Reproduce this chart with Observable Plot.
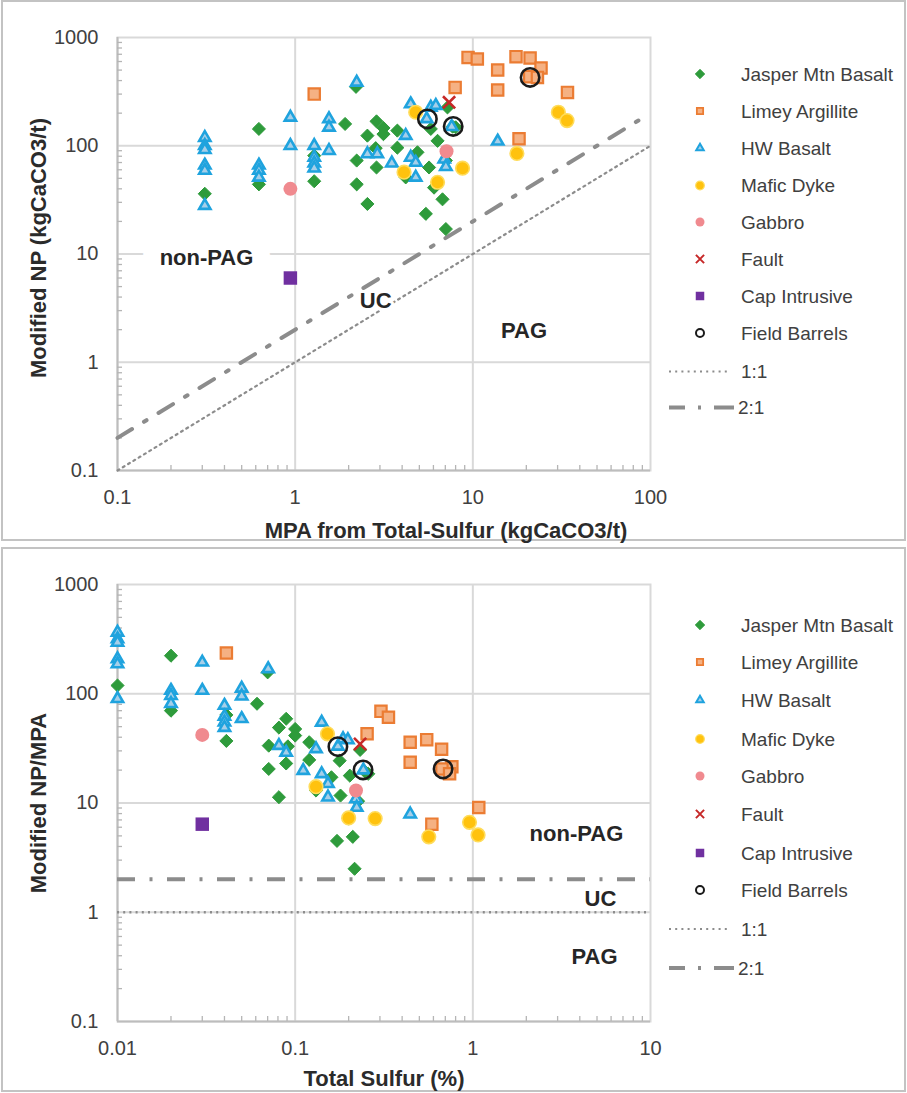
<!DOCTYPE html>
<html>
<head>
<meta charset="utf-8">
<script src="https://cdn.jsdelivr.net/npm/d3@7"></script>
<script src="https://cdn.jsdelivr.net/npm/@observablehq/plot@0.6"></script>
<style>
  body { margin: 0; background: #fff; font-family: "Liberation Sans", Arial, sans-serif; }
  #page { position: relative; width: 907px; height: 1093px; overflow: hidden; }
  .panel { position: absolute; border: 2px solid #c3c3c3; box-sizing: border-box; }
  .chart { position: absolute; left: 0; }
  .legend { position: absolute; left: 0; overflow: visible; }
</style>
</head>
<body>
<div id="page"></div>
<script>
// ---------------- Series names ----------------
const seriesNames = ["Jasper Mtn Basalt", "Limey Argillite", "HW Basalt", "Mafic Dyke", "Gabbro", "Fault", "Cap Intrusive", "Field Barrels"];
const lineNames = ["1:1", "2:1"];

// ---------------- Top panel: MPA from Total-Sulfur vs Modified NP (kgCaCO3/t) ----------------
const jasperMPA = [0.31, 0.625, 0.625, 1.28, 1.28, 1.91, 2.2, 2.22, 2.22, 2.55, 2.55, 2.87, 2.87, 2.84, 3.14, 3.14, 3.76, 3.76, 4.19, 4.88, 5.67, 5.8, 6.05, 6.33, 6.75, 5.44, 7.05, 7.05, 7.2, 7.7, 8.0];
const jasperNP  = [36, 143, 44, 81, 47, 159, 350, 73, 44, 124, 29, 168, 63, 95, 146, 128, 138, 96, 51, 87, 63, 143, 41, 111, 32, 23.5, 17, 73, 226, 150, 148];
const limeyMPA = [1.28, 7.95, 9.4, 10.6, 13.8, 13.8, 17.5, 21, 24.2, 20.9, 23.1, 34.1, 18.2];
const limeyNP  = [300, 346, 655, 633, 501, 327, 665, 647, 523, 435, 428, 311, 116];
const hwMPA = [0.31, 0.31, 0.31, 0.31, 0.31, 0.31, 0.625, 0.625, 0.625, 0.94, 0.94, 1.28, 1.28, 1.28, 1.28, 1.55, 1.55, 1.55, 2.22, 2.55, 2.9, 3.5, 4.19, 4.47, 4.47, 4.77, 4.77, 5.5, 5.8, 6.19, 6.9, 7.05, 7.6, 13.8];
const hwNP  = [119, 100, 92, 66, 59, 28, 66, 59, 51, 183, 100, 100, 78, 69, 62, 177, 148, 90, 385, 84, 84, 69, 124, 243, 78, 70, 51, 177, 226, 235, 75, 64, 150, 110];
const maficMPA = [4.77, 4.1, 6.33, 8.75, 17.7, 30.3, 33.9];
const maficNP  = [204, 57, 46, 62, 85, 204, 171];
const gabbroMPA = [0.94, 7.11];
const gabbroNP  = [40, 89];
const faultMPA = [7.35];
const faultNP  = [252];
const capMPA = [0.94];
const capNP  = [6];
const fieldMPA = [5.55, 7.75, 21];
const fieldNP  = [177, 151, 428];
// reference lines (top)
const line11MPA = [0.1, 100];
const line11NP  = [0.1, 100];
const line21MPA = [0.1, 90];
const line21NP  = [0.2, 180];

// ---------------- Bottom panel: Total Sulfur (%) vs Modified NP/MPA ----------------
const jasperS = [0.01, 0.02, 0.02, 0.041, 0.041, 0.061, 0.07, 0.071, 0.071, 0.081, 0.081, 0.089, 0.089, 0.091, 0.1, 0.1, 0.12, 0.12, 0.131, 0.16, 0.18, 0.178, 0.2, 0.203, 0.211, 0.172, 0.216, 0.226, 0.232, 0.246, 0.258];
const jasperRatio = [119, 223, 70, 64, 37, 81, 157, 33.5, 20.5, 49, 11.3, 59, 23, 33, 47.6, 41.4, 36, 24.8, 13, 17.2, 11.7, 24.4, 7.2, 17.8, 4.9, 4.5, 2.5, 10.4, 30.6, 19.5, 18.5];
const limeyS = [0.041, 0.254, 0.304, 0.335, 0.444, 0.444, 0.55, 0.667, 0.762, 0.67, 0.74, 1.08, 0.588];
const limeyRatio = [236, 43, 69, 61, 36, 23.6, 38, 31, 21.5, 20.5, 18.5, 9.1, 6.4];
const hwS = [0.01, 0.01, 0.01, 0.01, 0.01, 0.01, 0.02, 0.02, 0.02, 0.03, 0.03, 0.04, 0.04, 0.04, 0.04, 0.05, 0.05, 0.05, 0.0705, 0.081, 0.089, 0.111, 0.131, 0.141, 0.141, 0.153, 0.153, 0.174, 0.186, 0.198, 0.22, 0.222, 0.242, 0.444];
const hwRatio = [365, 317, 295, 208, 187, 90, 107, 96, 81, 194, 107, 78, 62, 55, 49, 112, 95, 59, 169, 33.5, 29, 19.8, 31.3, 54.7, 18.5, 15, 11.3, 33, 38.6, 37.8, 10.9, 9.1, 20, 7.9];
const maficS = [0.152, 0.131, 0.2, 0.282, 0.565, 0.958, 1.07];
const maficRatio = [43, 14.1, 7.3, 7.2, 4.9, 6.66, 5.1];
const gabbroS = [0.03, 0.22];
const gabbroRatio = [42, 13];
const faultS = [0.232];
const faultRatio = [34.7];
const capS = [0.03];
const capRatio = [6.4];
const fieldS = [0.174, 0.241, 0.68];
const fieldRatio = [32.8, 20.1, 20.5];
// reference lines (bottom)
const line11Ratio = [1];
const line21Ratio = [2];

// ---------------- Axis ticks ----------------
const topXTicks = [0.1, 1, 10, 100];
const topXLabels = ["0.1", "1", "10", "100"];
const topYTicks = [0.1, 1, 10, 100, 1000];
const topYLabels = ["0.1", "1", "10", "100", "1000"];
const botXTicks = [0.01, 0.1, 1, 10];
const botXLabels = ["0.01", "0.1", "1", "10"];
const botYTicks = [0.1, 1, 10, 100, 1000];
const botYLabels = ["0.1", "1", "10", "100", "1000"];

// ---------------- Annotations ----------------
const topAnnText = ["non-PAG", "UC", "PAG"];
const topAnnX = [0.317, 2.84, 19.4];
const topAnnY = [9.27, 3.71, 1.96];
const botAnnText = ["non-PAG", "UC", "PAG"];
const botAnnX = [3.83, 5.23, 4.84];
const botAnnY = [5.25, 1.33, 0.39];

// ---------------- Styles ----------------
const styles = [
  {symbol: "diamond2", r: 5.9, fill: "#2e9b3b", stroke: "#2e9b3b", strokeWidth: 1, lr: 4.3, lsw: 0.8},
  {symbol: "square2", r: 7.2, fill: "#f5b183", stroke: "#eb7c33", strokeWidth: 2.2, lr: 4.0, lsw: 1.8},
  {symbol: "triangle2", r: 5.4, fill: "#a6cfe9", stroke: "#1fa3de", strokeWidth: 2.6, lr: 3.6, lsw: 2},
  {symbol: "circle", r: 6.8, fill: "#ffc20e", stroke: "#ffdc5a", strokeWidth: 1.6, lr: 4.3, lsw: 1.2},
  {symbol: "circle", r: 7, fill: "#f08a8f", stroke: "none", strokeWidth: 0, lr: 4.5, lsw: 0},
  {symbol: "times", r: 5.6, fill: "none", stroke: "#c62828", strokeWidth: 2.6, lr: 3.8, lsw: 2},
  {symbol: "square", r: 7.6, fill: "#7030a0", stroke: "none", strokeWidth: 0, lr: 4.8, lsw: 0},
  {symbol: "circle", r: 9.2, fill: "none", stroke: "#1a1a1a", strokeWidth: 2.6, lr: 4.0, lsw: 2}
];
const lineColor = "#8c8c8c";

function rows(xs, ys) { return xs.map((x, i) => ({x, y: ys[i]})); }
function minorsFor(domain) {
  const out = [];
  for (let e = Math.round(Math.log10(domain[0])); e < Math.round(Math.log10(domain[1])); e++) {
    for (let k = 2; k <= 9; k++) out.push(k * Math.pow(10, e));
  }
  return out;
}

const FONT = '"Liberation Sans", Arial, sans-serif';

function makeChart(cfg) {
  const W = 907, mL = 117, mR = 257;
  const plotW = W - mL - mR, plotH = cfg.height - cfg.mt - cfg.mb;
  const marks = [];
  // gridlines
  marks.push(Plot.ruleX(cfg.gridX, {stroke: "#d9d9d9", strokeWidth: 2}));
  marks.push(Plot.ruleY(cfg.gridY, {stroke: "#d9d9d9", strokeWidth: 2}));
  marks.push(Plot.frame({stroke: "#d9d9d9", strokeWidth: 2}));
  marks.push(Plot.ruleX([cfg.xDomain[0]], {stroke: "#bdbdbd", strokeWidth: 2}));
  marks.push(Plot.ruleY([cfg.yDomain[0]], {stroke: "#bdbdbd", strokeWidth: 2}));
  // minor ticks (inside)
  marks.push(Plot.tickX(minorsFor(cfg.xDomain), {x: d => d, stroke: "#b5b5b5", strokeWidth: 1.3, insetTop: plotH - 5}));
  marks.push(Plot.tickY(minorsFor(cfg.yDomain), {y: d => d, stroke: "#b5b5b5", strokeWidth: 1.3, insetRight: plotW - 5}));
  // reference lines
  marks.push(...cfg.refMarks);
  // annotations
  cfg.ann.forEach(a => {
    marks.push(Plot.text([a.text], {x: [a.x], y: [a.y], text: d => d, fontSize: 22, fontWeight: "bold", fill: "#262626",
      stroke: a.halo ? "white" : undefined, strokeWidth: a.halo || undefined}));
  });
  // series
  cfg.series.forEach((s, i) => {
    const st = styles[i];
    marks.push(Plot.dot(rows(s[0], s[1]), {x: "x", y: "y", symbol: st.symbol, r: st.r, fill: st.fill,
      stroke: st.stroke, strokeWidth: st.strokeWidth}));
  });
  // axes
  marks.push(Plot.axisX(cfg.xTicks, {tickFormat: d => cfg.xLabels[cfg.xTicks.indexOf(d)], tickSize: 0, tickPadding: 19,
    fontSize: 20, color: "#404040", label: null}));
  marks.push(Plot.axisY(cfg.yTicks, {tickFormat: d => cfg.yLabels[cfg.yTicks.indexOf(d)], tickSize: 0, tickPadding: 19,
    fontSize: 20, color: "#404040", label: null}));
  // axis titles
  marks.push(Plot.text([cfg.xTitle], {text: d => d, frameAnchor: "bottom", textAnchor: "middle", lineAnchor: "middle",
    dx: cfg.xTitleDx, dy: cfg.xTitleDy, fontSize: 22, fontWeight: "bold", fill: "#2b2b2b"}));
  marks.push(Plot.text([cfg.yTitle], {text: d => d, frameAnchor: "left", textAnchor: "middle", lineAnchor: "middle",
    dx: -79, dy: cfg.yTitleDy, rotate: -90, fontSize: 22, fontWeight: "bold", fill: "#2b2b2b"}));

  return Plot.plot({
    width: W, height: cfg.height,
    marginLeft: mL, marginRight: mR, marginTop: cfg.mt, marginBottom: cfg.mb,
    x: {type: "log", domain: cfg.xDomain},
    y: {type: "log", domain: cfg.yDomain},
    style: {fontFamily: FONT, background: "transparent", overflow: "visible"},
    marks
  });
}

function makeLegend(svgHeight, rowYs) {
  const types = {diamond2: d3.symbolDiamond2, square2: d3.symbolSquare2, triangle2: d3.symbolTriangle2,
    circle: d3.symbolCircle, times: d3.symbolTimes, square: d3.symbolSquare};
  const svg = d3.create("svg").attr("width", 907).attr("height", svgHeight).attr("class", "legend")
    .style("font-family", FONT);
  seriesNames.forEach((name, i) => {
    const st = styles[i];
    svg.append("path")
      .attr("d", d3.symbol(types[st.symbol], Math.PI * st.lr * st.lr)())
      .attr("transform", `translate(700,${rowYs[i]})`)
      .attr("fill", st.fill).attr("stroke", st.stroke).attr("stroke-width", st.lsw);
    svg.append("text").attr("x", 741).attr("y", rowYs[i]).attr("dy", "0.35em")
      .attr("font-size", 19).attr("fill", "#404040").text(name);
  });
  // 1:1
  svg.append("line").attr("x1", 669).attr("x2", 731).attr("y1", rowYs[8]).attr("y2", rowYs[8])
    .attr("stroke", lineColor).attr("stroke-width", 2.2).attr("stroke-dasharray", "2,4.2");
  svg.append("text").attr("x", 741).attr("y", rowYs[8]).attr("dy", "0.35em")
    .attr("font-size", 19).attr("fill", "#404040").text(lineNames[0]);
  // 2:1
  svg.append("line").attr("x1", 669).attr("x2", 737).attr("y1", rowYs[9]).attr("y2", rowYs[9])
    .attr("stroke", lineColor).attr("stroke-width", 4).attr("stroke-dasharray", "16,13,3,13,20");
  svg.append("text").attr("x", 738).attr("y", rowYs[9]).attr("dy", "0.35em")
    .attr("font-size", 19).attr("fill", "#404040").text(lineNames[1]);
  return svg.node();
}

const page = document.getElementById("page");
function addPanel(top, height) {
  const d = document.createElement("div");
  d.className = "panel";
  d.style.left = "1px"; d.style.top = top + "px"; d.style.width = "905px"; d.style.height = height + "px";
  page.appendChild(d);
}
addPanel(0, 541);
addPanel(547, 545);

// ---------- top chart ----------
const topChart = makeChart({
  height: 540, mt: 37, mb: 70,
  xDomain: [0.1, 100], yDomain: [0.1, 1000],
  gridX: [1, 10], gridY: [1, 10, 100],
  xTicks: topXTicks, xLabels: topXLabels, yTicks: topYTicks, yLabels: topYLabels,
  xTitle: "MPA from Total-Sulfur (kgCaCO3/t)", xTitleDx: 62, xTitleDy: 60,
  yTitle: "Modified NP (kgCaCO3/t)", yTitleDy: -6,
  refMarks: [
    Plot.line(rows(line11MPA, line11NP), {x: "x", y: "y", stroke: lineColor, strokeWidth: 2.2, strokeDasharray: "2,4.2"}),
    Plot.line(rows(line21MPA, line21NP), {x: "x", y: "y", stroke: lineColor, strokeWidth: 4, strokeDasharray: "17,14,3,14"})
  ],
  ann: topAnnText.map((t, i) => ({text: t, x: topAnnX[i], y: topAnnY[i], halo: i === 0 ? 36 : (i === 1 ? 6 : 0)})),
  series: [
    [jasperMPA, jasperNP], [limeyMPA, limeyNP], [hwMPA, hwNP], [maficMPA, maficNP],
    [gabbroMPA, gabbroNP], [faultMPA, faultNP], [capMPA, capNP], [fieldMPA, fieldNP]
  ]
});
const c1 = document.createElement("div");
c1.className = "chart"; c1.style.top = "0px";
c1.appendChild(topChart);
page.appendChild(c1);
const l1 = makeLegend(540, [74, 111, 148, 185.5, 222, 259, 296, 333, 371.5, 407.5]);
l1.style.top = "0px";
page.appendChild(l1);

// ---------- bottom chart ----------
const botChart = makeChart({
  height: 546, mt: 37, mb: 72,
  xDomain: [0.01, 10], yDomain: [0.1, 1000],
  gridX: [0.1, 1], gridY: [1, 10, 100],
  xTicks: botXTicks, xLabels: botXLabels, yTicks: botYTicks, yLabels: botYLabels,
  xTitle: "Total Sulfur (%)", xTitleDx: 0, xTitleDy: 57,
  yTitle: "Modified NP/MPA", yTitleDy: 0,
  refMarks: [
    Plot.ruleY(line11Ratio, {stroke: lineColor, strokeWidth: 2.4, strokeDasharray: "2,4.2"}),
    Plot.ruleY(line21Ratio, {stroke: lineColor, strokeWidth: 4, strokeDasharray: "18,14.5,3,14.5"})
  ],
  ann: botAnnText.map((t, i) => ({text: t, x: botAnnX[i], y: botAnnY[i], halo: 0})),
  series: [
    [jasperS, jasperRatio], [limeyS, limeyRatio], [hwS, hwRatio], [maficS, maficRatio],
    [gabbroS, gabbroRatio], [faultS, faultRatio], [capS, capRatio], [fieldS, fieldRatio]
  ]
});
const c2 = document.createElement("div");
c2.className = "chart"; c2.style.top = "547px";
c2.appendChild(botChart);
page.appendChild(c2);
const l2 = makeLegend(546, [78, 115, 153, 192, 229, 267, 306, 343, 382, 421]);
l2.style.top = "547px";
page.appendChild(l2);
</script>
</body>
</html>
